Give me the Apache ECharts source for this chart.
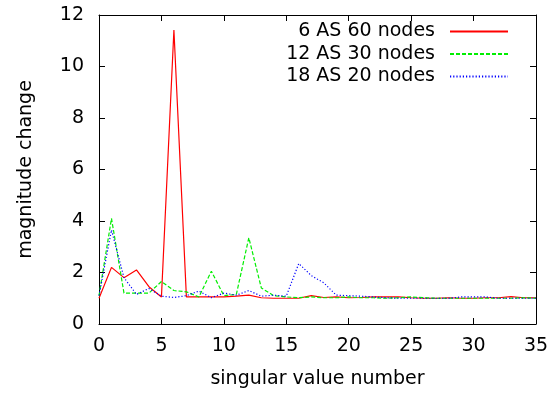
<!DOCTYPE html>
<html>
<head>
<meta charset="utf-8">
<script src="https://cdn.jsdelivr.net/npm/echarts@6/dist/echarts.min.js"></script>
<style>html,body{margin:0;padding:0;background:#fff}#c{width:555px;height:398px}</style>
</head>
<body>
<div id="c"></div>
<script>
const xValues = [0,1,2,3,4,5,6,7,8,9,10,11,12,13,14,15,16,17,18,19,20,21,22,23,24,25,26,27,28,29,30,31,32,33,34,35];
const seriesNames = ['6 AS 60 nodes', '12 AS 30 nodes', '18 AS 20 nodes'];
const red = [1.0, 2.2, 1.8, 2.1, 1.45, 1.05, 11.42, 1.05, 1.05, 1.05, 1.05, 1.08, 1.12, 1.02, 1.0, 1.0, 1.0, 1.1, 1.03, 1.05, 1.02, 1.03, 1.05, 1.05, 1.05, 1.02, 1.0, 1.0, 1.02, 1.0, 1.0, 1.02, 1.02, 1.06, 1.02, 1.02];
const green = [1.1, 4.1, 1.2, 1.2, 1.2, 1.65, 1.3, 1.25, 1.05, 2.05, 1.1, 1.15, 3.35, 1.4, 1.1, 1.05, 1.02, 1.05, 1.02, 1.02, 1.05, 1.02, 1.02, 1.0, 1.02, 1.05, 1.02, 1.0, 1.0, 1.0, 1.0, 1.0, 1.0, 1.0, 1.02, 1.0];
const blue = [1.1, 3.65, 1.8, 1.15, 1.38, 1.08, 1.03, 1.1, 1.28, 1.02, 1.2, 1.12, 1.3, 1.08, 1.12, 1.08, 2.35, 1.88, 1.6, 1.12, 1.1, 1.08, 1.05, 1.02, 1.0, 1.0, 1.0, 1.0, 1.0, 1.05, 1.05, 1.05, 1.0, 1.0, 1.0, 1.0];
const xTicks = {min: 0, max: 35, interval: 5};
const yTicks = {min: 0, max: 12, interval: 2};

const FONT = 'DejaVu Sans';
const chart = echarts.init(document.getElementById('c'), null, {renderer: 'canvas'});
const axisCommon = {
  axisLine: {show: true, onZero: false, lineStyle: {color: '#000', width: 1}},
  axisTick: {show: true, inside: true, length: 6, lineStyle: {color: '#000', width: 1}},
  splitLine: {show: false}
};
function pairs(arr){ return xValues.map((x,i)=>[x, arr[i]]); }
function legendFor(name, top){
  return {
    data: [name], right: 46, top: top, orient: 'vertical', align: 'right',
    itemWidth: 58, itemHeight: 14, padding: 0,
    itemStyle: {opacity: 0},
    textStyle: {fontFamily: FONT, fontSize: 19, color: '#000', padding: [0, 10, 0, 0]}
  };
}
chart.setOption({
  animation: false,
  backgroundColor: '#fff',
  grid: {left: 99, right: 19, top: 15, bottom: 74, containLabel: false},
  legend: [legendFor(seriesNames[0], 22), legendFor(seriesNames[1], 44.5), legendFor(seriesNames[2], 67)],
  xAxis: [
    Object.assign({type: 'value', position: 'bottom', min: xTicks.min, max: xTicks.max, interval: xTicks.interval,
      name: 'singular value number', nameLocation: 'middle', nameGap: 46,
      nameTextStyle: {fontFamily: FONT, fontSize: 19, color: '#000'},
      axisLabel: {fontFamily: FONT, fontSize: 19, color: '#000', margin: 13}}, axisCommon),
    Object.assign({type: 'value', position: 'top', min: xTicks.min, max: xTicks.max, interval: xTicks.interval,
      axisLabel: {show: false}}, axisCommon)
  ],
  yAxis: [
    Object.assign({type: 'value', position: 'left', min: yTicks.min, max: yTicks.max, interval: yTicks.interval,
      name: 'magnitude change', nameLocation: 'middle', nameGap: 63, nameRotate: 90,
      nameTextStyle: {fontFamily: FONT, fontSize: 19, color: '#000'},
      axisLabel: {fontFamily: FONT, fontSize: 19, color: '#000', margin: 15}}, axisCommon),
    Object.assign({type: 'value', position: 'right', min: yTicks.min, max: yTicks.max, interval: yTicks.interval,
      axisLabel: {show: false}}, axisCommon)
  ],
  series: [
    {name: seriesNames[0], type: 'line', data: pairs(red), symbol: 'none', color: '#ff0000',
      lineStyle: {color: '#ff0000', width: 1.2, type: 'solid'}},
    {name: seriesNames[1], type: 'line', data: pairs(green), symbol: 'none', color: '#00e000',
      lineStyle: {color: '#00ee00', width: 1.2, type: [4, 2]}},
    {name: seriesNames[2], type: 'line', data: pairs(blue), symbol: 'none', color: '#0000ff',
      lineStyle: {color: '#0000ff', width: 1.2, type: [1.2, 2]}}
  ]
});
</script>
</body>
</html>
